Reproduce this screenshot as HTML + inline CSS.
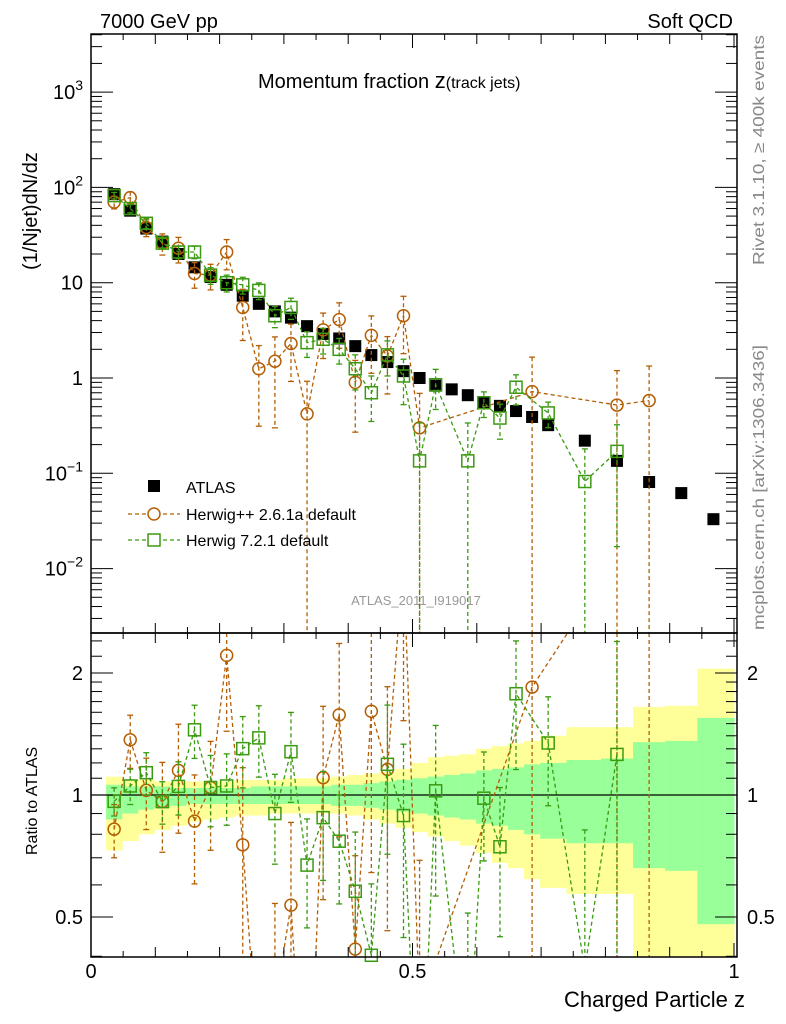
<!DOCTYPE html>
<html><head><meta charset="utf-8"><style>
html,body{margin:0;padding:0;background:#fff;overflow:hidden;width:786px;height:1024px;}
svg{display:block;font-family:"Liberation Sans",sans-serif;}
</style></head><body>
<svg id="c" width="786" height="1024" viewBox="0 0 786 1024">
<text x="100" y="28" font-size="20">7000 GeV pp</text>
<text x="733" y="28" font-size="20" text-anchor="end">Soft QCD</text>
<text x="258" y="88" font-size="20">Momentum fraction <tspan font-size="22">z</tspan><tspan font-size="16">(track jets)</tspan></text>
<text transform="translate(37,270) rotate(-90)" font-size="20">(1/Njet)dN/dz</text>
<text transform="translate(37,855) rotate(-90)" font-size="16">Ratio to ATLAS</text>
<text x="745" y="1007" font-size="22" text-anchor="end">Charged Particle z</text>
<text transform="translate(764,265) rotate(-90)" font-size="16" textLength="230" lengthAdjust="spacingAndGlyphs" fill="#888">Rivet 3.1.10, ≥ 400k events</text>
<text transform="translate(764,630) rotate(-90)" font-size="16" textLength="285" lengthAdjust="spacingAndGlyphs" fill="#888">mcplots.cern.ch [arXiv:1306.3436]</text>
<text x="416" y="605" font-size="13" fill="#999" text-anchor="middle">ATLAS_2011_I919017</text>
<g id="bands"></g><g id="top"></g><g id="bot"></g><g id="axes"></g>
<g>
<rect x="148" y="480" width="12" height="12" fill="#000"/>
<text x="186" y="493" font-size="16">ATLAS</text>
<line x1="128" y1="514" x2="180" y2="514" stroke="#b45f06" stroke-width="1.2" stroke-dasharray="4,3"/>
<circle cx="154" cy="514" r="6" fill="#fff" stroke="#b45f06" stroke-width="1.5"/>
<text x="186" y="520" font-size="16">Herwig++ 2.6.1a default</text>
<line x1="128" y1="540" x2="180" y2="540" stroke="#3a9a10" stroke-width="1.2" stroke-dasharray="4,3"/>
<rect x="148" y="534" width="12" height="12" fill="#fff" stroke="#3a9a10" stroke-width="1.5"/>
<text x="186" y="546" font-size="16">Herwig 7.2.1 default</text>
</g>
</svg>
<script>
const zVals=[0.036,0.061,0.086,0.111,0.136,0.161,0.186,0.211,0.236,0.261,0.286,0.311,0.336,0.361,0.386,0.411,0.436,0.461,0.486,0.511,0.536,0.561,0.586,0.611,0.636,0.661,0.686,0.711,0.768,0.818,0.868,0.918,0.968];
const atlasVals=[85,57,37,27,20,14.5,11.5,9.5,7.3,6,5,4.3,3.5,2.9,2.6,2.16,1.74,1.47,1.18,1.0,0.83,0.76,0.66,0.56,0.51,0.45,0.39,0.32,0.22,0.135,0.081,0.062,0.033];
const hppVals=[70,78,38,26,23,12.5,12,21,5.5,1.25,1.5,2.3,0.42,3.2,4.1,0.9,2.8,1.7,4.5,0.3,null,null,null,null,null,null,0.72,null,null,0.52,0.58,null,null];
const hppErr=[0.15,0.15,0.2,0.25,0.3,0.3,0.3,0.35,0.55,0.75,0.8,0.6,1.2,0.5,0.5,0.7,0.6,0.6,0.6,1.3,0,0,0,0,0,0,1.3,0,0,1.3,1.3,0,0];
const h7Vals=[82,60,42,26,21,21,12,10,9.5,8.3,4.5,5.5,2.35,2.55,2.0,1.25,0.7,1.75,1.05,0.135,0.85,null,0.135,0.55,0.38,0.8,null,0.43,0.082,0.17,null,null,null];
const h7Err=[0.08,0.1,0.12,0.12,0.15,0.15,0.2,0.2,0.2,0.2,0.25,0.25,0.3,0.3,0.3,0.4,0.5,0.4,0.5,1.5,0.45,0,1.5,0.3,0.4,0.35,0,0.3,1.2,0.9,0,0,0];
const yelUp=[1.11,1.09,1.09,1.08,1.08,1.08,1.08,1.08,1.09,1.09,1.09,1.1,1.1,1.1,1.11,1.12,1.13,1.14,1.16,1.2,1.24,1.25,1.26,1.3,1.32,1.34,1.36,1.4,1.47,1.47,1.65,1.66,2.05];
const yelDn=[0.73,0.77,0.8,0.82,0.84,0.86,0.87,0.88,0.89,0.89,0.9,0.9,0.9,0.9,0.9,0.89,0.87,0.85,0.83,0.81,0.79,0.77,0.75,0.72,0.68,0.66,0.62,0.59,0.57,0.57,0.3,0.3,0.3];
const grnUp=[1.06,1.05,1.05,1.05,1.04,1.04,1.04,1.04,1.04,1.05,1.05,1.05,1.05,1.05,1.06,1.06,1.07,1.08,1.09,1.1,1.11,1.12,1.13,1.15,1.16,1.17,1.19,1.2,1.22,1.23,1.35,1.36,1.55];
const grnDn=[0.87,0.9,0.92,0.93,0.94,0.95,0.95,0.95,0.95,0.95,0.95,0.95,0.95,0.95,0.94,0.94,0.93,0.92,0.91,0.9,0.89,0.88,0.87,0.85,0.84,0.82,0.8,0.78,0.76,0.76,0.66,0.65,0.48];
const xTicks=["0","0.5","1"];
const yTopTicks=[3,2,1,0,-1,-2];
const ratioTicks=[2,1,0.5];

const NS="http://www.w3.org/2000/svg";
const L=91,R=737,T=34,M=633,B=957;
const X=z=>L+(z)*643;
const Ytop=v=>378-95.3*Math.log10(v);
const Yr=r=>795-122*Math.log2(r);
function mk(tag,attrs,parent){const e=document.createElementNS(NS,tag);for(const k in attrs)e.setAttribute(k,attrs[k]);parent.appendChild(e);return e;}
const gB=document.getElementById('bands'),gT=document.getElementById('top'),gR=document.getElementById('bot'),gA=document.getElementById('axes');
const clipT=v=>Math.max(T,Math.min(M,v)),clipB=v=>Math.max(M,Math.min(B,v));
const edges=[];
for(let i=0;i<zVals.length;i++){const lo=i==0?zVals[0]-0.0125:(zVals[i-1]+zVals[i])/2;const hi=i==zVals.length-1?1.0:(zVals[i]+zVals[i+1])/2;edges.push([lo,hi]);}
for(let i=0;i<zVals.length;i++){
 const x0=X(edges[i][0]),x1=X(edges[i][1]);
 const y=mk('rect',{x:x0,y:clipB(Yr(yelUp[i])),width:x1-x0+0.5,height:clipB(Yr(yelDn[i]))-clipB(Yr(yelUp[i])),fill:'#ffff99'},gB);
 
 
 const g=mk('rect',{x:x0,y:clipB(Yr(grnUp[i])),width:x1-x0+0.5,height:clipB(Yr(grnDn[i]))-clipB(Yr(grnUp[i])),fill:'#99ff99'},gB);
 
 
}
mk('line',{x1:L,y1:795,x2:R,y2:795,stroke:'#000','stroke-width':1.2},gB);
const defs=mk('defs',{},document.getElementById('c'));
const cpb=mk('clipPath',{id:'cpB'},defs);mk('rect',{x:L,y:M,width:R-L,height:B-M},cpb);
for(let i=0;i<zVals.length;i++){const r=mk('rect',{x:X(zVals[i])-6,y:Ytop(atlasVals[i])-6,width:12,height:12,fill:'#000'},gT);
 
 }
function series(vals,errs,color,shape,name){
 const ptsT=[],ptsR=[];
 for(let i=0;i<zVals.length;i++){if(vals[i]==null)continue;const x=X(zVals[i]);
  const v=vals[i],e=errs[i]*v;
  ptsT.push([x,Ytop(v)]);ptsR.push([x,Yr(v/atlasVals[i])]);
  const lo=v-e>0?Ytop(v-e):M,hi=Ytop(v+e);
  mk('line',{x1:x,y1:clipT(hi),x2:x,y2:clipT(lo),stroke:color,'stroke-width':1.3,'stroke-dasharray':'4,3'},gT);
  if(lo<M)mk('line',{x1:x-3,y1:lo,x2:x+3,y2:lo,stroke:color,'stroke-width':1.3},gT);
  if(hi>T)mk('line',{x1:x-3,y1:hi,x2:x+3,y2:hi,stroke:color,'stroke-width':1.3},gT);
  const r=v/atlasVals[i],er=e/atlasVals[i];
  const rlo=r-er>0?Yr(r-er):B,rhi=Yr(r+er);
  mk('line',{x1:x,y1:clipB(rhi),x2:x,y2:clipB(rlo),stroke:color,'stroke-width':1.3,'stroke-dasharray':'4,3'},gR);
  if(rlo<B&&rlo>M)mk('line',{x1:x-3,y1:rlo,x2:x+3,y2:rlo,stroke:color,'stroke-width':1.3},gR);
  if(rhi>M&&rhi<B)mk('line',{x1:x-3,y1:rhi,x2:x+3,y2:rhi,stroke:color,'stroke-width':1.3},gR);
 }
 const pl=mk('polyline',{points:ptsT.map(p=>p.join(',')).join(' '),fill:'none',stroke:color,'stroke-width':1.3,'stroke-dasharray':'4,3'},gT);
 
 
 const pr=mk('polyline',{points:ptsR.map(p=>p.join(',')).join(' '),fill:'none',stroke:color,'stroke-width':1.3,'stroke-dasharray':'4,3','clip-path':'url(#cpB)'},gR);
 
 
 function marker(p,g,nm){if(p[1]<g[0]||p[1]>g[1])return;let m;
  if(shape=='c')m=mk('circle',{cx:p[0],cy:p[1],r:6,fill:'none',stroke:color,'stroke-width':1.5},g[2]);
  else m=mk('rect',{x:p[0]-6,y:p[1]-6,width:12,height:12,fill:'none',stroke:color,'stroke-width':1.5},g[2]);
  
  }
 ptsT.forEach(p=>marker(p,[T,M,gT],name+'-point'));
 ptsR.forEach(p=>marker(p,[M,B,gR],name+'-ratio-point'));
}
series(hppVals,hppErr,'#b45f06','c','herwigpp');
series(h7Vals,h7Err,'#3a9a10','s','herwig7');
mk('rect',{x:L,y:T,width:R-L,height:M-T,fill:'none',stroke:'#000','stroke-width':1.5},gA);
mk('rect',{x:L,y:M,width:R-L,height:B-M,fill:'none',stroke:'#000','stroke-width':1.5},gA);
for(let k=0;k<=20;k++){const x=X(k*0.05);const len=k%10==0?14:(k%2==0?10:6);
 [[T,1],[M,-1],[M,1],[B,-1]].forEach(([y,d])=>mk('line',{x1:x,y1:y,x2:x,y2:y+d*len,stroke:'#000','stroke-width':1},gA));}
xTicks.forEach((t,i)=>{const e=mk('text',{x:X(i*0.5),y:978,'font-size':20,'text-anchor':'middle'},gA);e.textContent=t;
 
 });
for(let d=-3;d<=3;d++){for(let m=1;m<10;m++){const v=m*Math.pow(10,d);const y=Ytop(v);if(y<T||y>M)continue;const len=m==1?22:11;
 mk('line',{x1:L,y1:y,x2:L+len,y2:y,stroke:'#000','stroke-width':1},gA);mk('line',{x1:R,y1:y,x2:R-len,y2:y,stroke:'#000','stroke-width':1},gA);}}
yTopTicks.forEach(p=>{const y=Ytop(Math.pow(10,p))+7;const e=mk('text',{x:83,y:y,'font-size':20,'text-anchor':'end'},gA);
 if(p==1)e.textContent='10';else if(p==0)e.textContent='1';else{e.textContent='10';const s=mk('tspan',{dy:-9,'font-size':14},e);s.textContent=p<0?'−'+(-p):String(p);}
 
 });
[0.4,0.5,0.6,0.7,0.8,0.9,1,1.1,1.2,1.3,1.4,1.5,1.6,1.7,1.8,1.9,2,2.2,2.4].forEach(r=>{const y=Yr(r);if(y<M||y>B)return;const len=(r==1||r==2||r==0.5)?22:11;
 mk('line',{x1:L,y1:y,x2:L+len,y2:y,stroke:'#000','stroke-width':1},gA);mk('line',{x1:R,y1:y,x2:R-len,y2:y,stroke:'#000','stroke-width':1},gA);});
ratioTicks.forEach(r=>{const y=Yr(r)+7;
 const a=mk('text',{x:83,y:y,'font-size':20,'text-anchor':'end'},gA);a.textContent=String(r);
 
 
 const b=mk('text',{x:747,y:y,'font-size':20},gA);b.textContent=String(r);
 
 });
</script>
</body></html>
